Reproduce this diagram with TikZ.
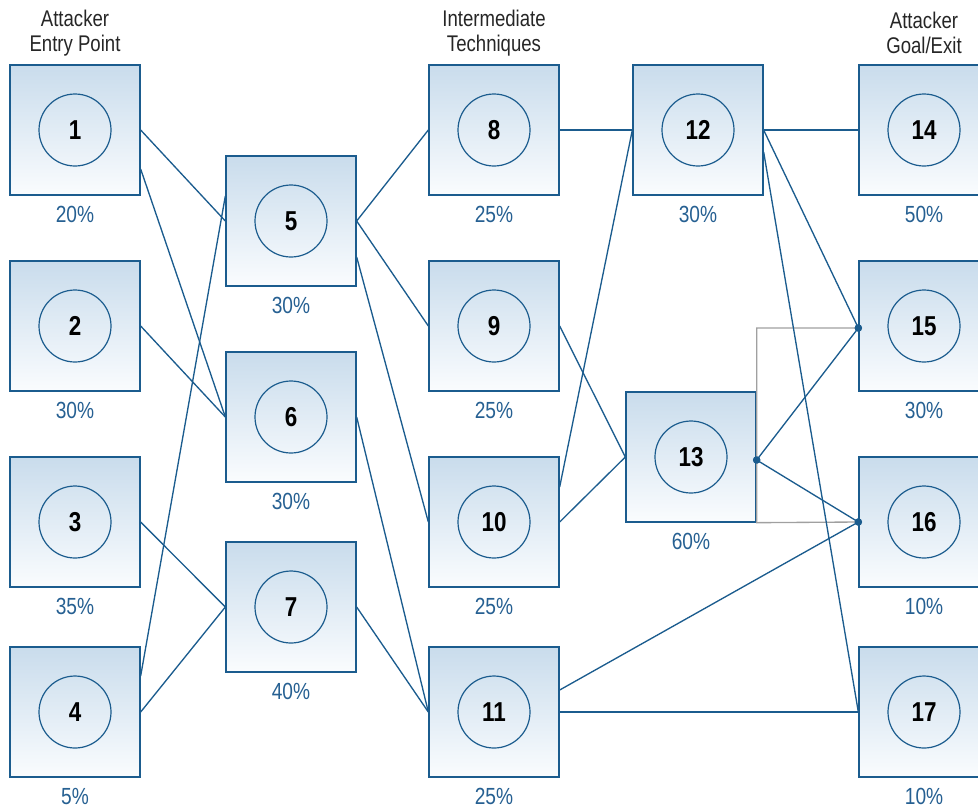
\documentclass[tikz,border=0pt]{standalone}
\usepackage{fontspec}
\setmainfont{Liberation Sans}[FakeStretch=0.82]
\usetikzlibrary{calc}
\definecolor{edge}{RGB}{27,92,142}
\definecolor{pcttext}{RGB}{38,96,146}
\definecolor{boxtop}{RGB}{201,220,236}
\definecolor{boxbot}{RGB}{250,252,254}
\definecolor{greyline}{RGB}{160,160,160}
\begin{document}
\begin{tikzpicture}[x=0.75pt,y=-0.75pt,
  box/.style={draw=edge, line width=1pt, top color=boxtop, bottom color=boxbot,
    minimum width=97.5pt, minimum height=97.5pt, inner sep=0pt},
  num/.style={circle, draw=edge, line width=0.9pt, minimum size=54pt, inner sep=0pt,
    font=\fontsize{20.5}{20.5}\selectfont\bfseries},
  pct/.style={text=pcttext, inner sep=0pt, font=\fontsize{17.5}{18}\selectfont},
  head/.style={align=center, text=black!85, font=\fontsize{17}{18.75}\selectfont},
  link/.style={draw=edge, line width=1pt},
  grey link/.style={draw=greyline, line width=1pt},
  dot/.style={circle, fill=edge, inner sep=0pt, minimum size=5.5pt}]
\useasboundingbox (0,0) rectangle (978,808);
\clip (0,0) rectangle (978,808);

% column headings
\node[head] (h1) at (75,33) {Attacker\\Entry Point};
\node[head] (h2) at (494,33) {Intermediate\\Techniques};
\node[head] (h3) at (924,33) {Attacker\\Goal/Exit};

% technique boxes
\foreach \n/\x/\y/\p in {1/75/130/20, 2/75/326/30, 3/75/522/35, 4/75/712/5,
                        5/291/221/30, 6/291/417/30, 7/291/607/40,
                        8/494/130/25, 9/494/326/25, 10/494/522/25, 11/494/712/25,
                        12/698/130/30, 13/691/457/60,
                        14/924/130/50, 15/924/326/30, 16/924/522/10, 17/924/712/10} {
  \node[box] (b\n) at (\x,\y) {};
  \node[num] (c\n) at (b\n.center) {\n};
  \node[pct] (p\n) at ($(b\n.south)+(0,19)$) {\p\%};
}

% junction points
\node[dot] (d13) at ($(b13.east)+(0,3)$) {};
\node[dot] (d15) at ($(b15.west)+(0,2)$) {};
\node[dot] (d16) at (b16.west) {};

% bracket around the exits of 13
\draw[grey link] (d15.center) -| (b13.north east) -- (b13.south east) -- (d16.center);

% connectors
\draw[link] (b1.east) -- (b5.west);
\draw[link] ($(b1.east)+(0,39)$) -- (b6.west);
\draw[link] (b2.east) -- (b6.west);
\draw[link] (b3.east) -- (b7.west);
\draw[link] (b4.east) -- (b7.west);
\draw[link] ($(b4.east)+(0,-36)$) -- ($(b5.west)+(0,-25)$);
\draw[link] (b5.east) -- (b8.west);
\draw[link] (b5.east) -- (b9.west);
\draw[link] ($(b5.east)+(0,36)$) -- (b10.west);
\draw[link] (b6.east) -- (b11.west);
\draw[link] (b7.east) -- (b11.west);
\draw[link] (b8.east) -- (b12.west);
\draw[link] (b9.east) -- (b13.west);
\draw[link] (b10.east) -- (b13.west);
\draw[link] ($(b10.east)+(0,-35)$) -- (b12.west);
\draw[link] ($(b11.east)+(0,-22)$) -- (d16.center);
\draw[link] (b11.east) -- (b17.west);
\draw[link] (b12.east) -- (b14.west);
\draw[link] (b12.east) -- (d15.center);
\draw[link] ($(b12.east)+(0,22)$) -- (b17.west);
\draw[link] (d13.center) -- (d15.center);
\draw[link] (d13.center) -- (d16.center);

% junction dots above the lines
\foreach \d in {d13,d15,d16} \fill[edge] (\d.center) circle (2.8pt);
\end{tikzpicture}
\end{document}
